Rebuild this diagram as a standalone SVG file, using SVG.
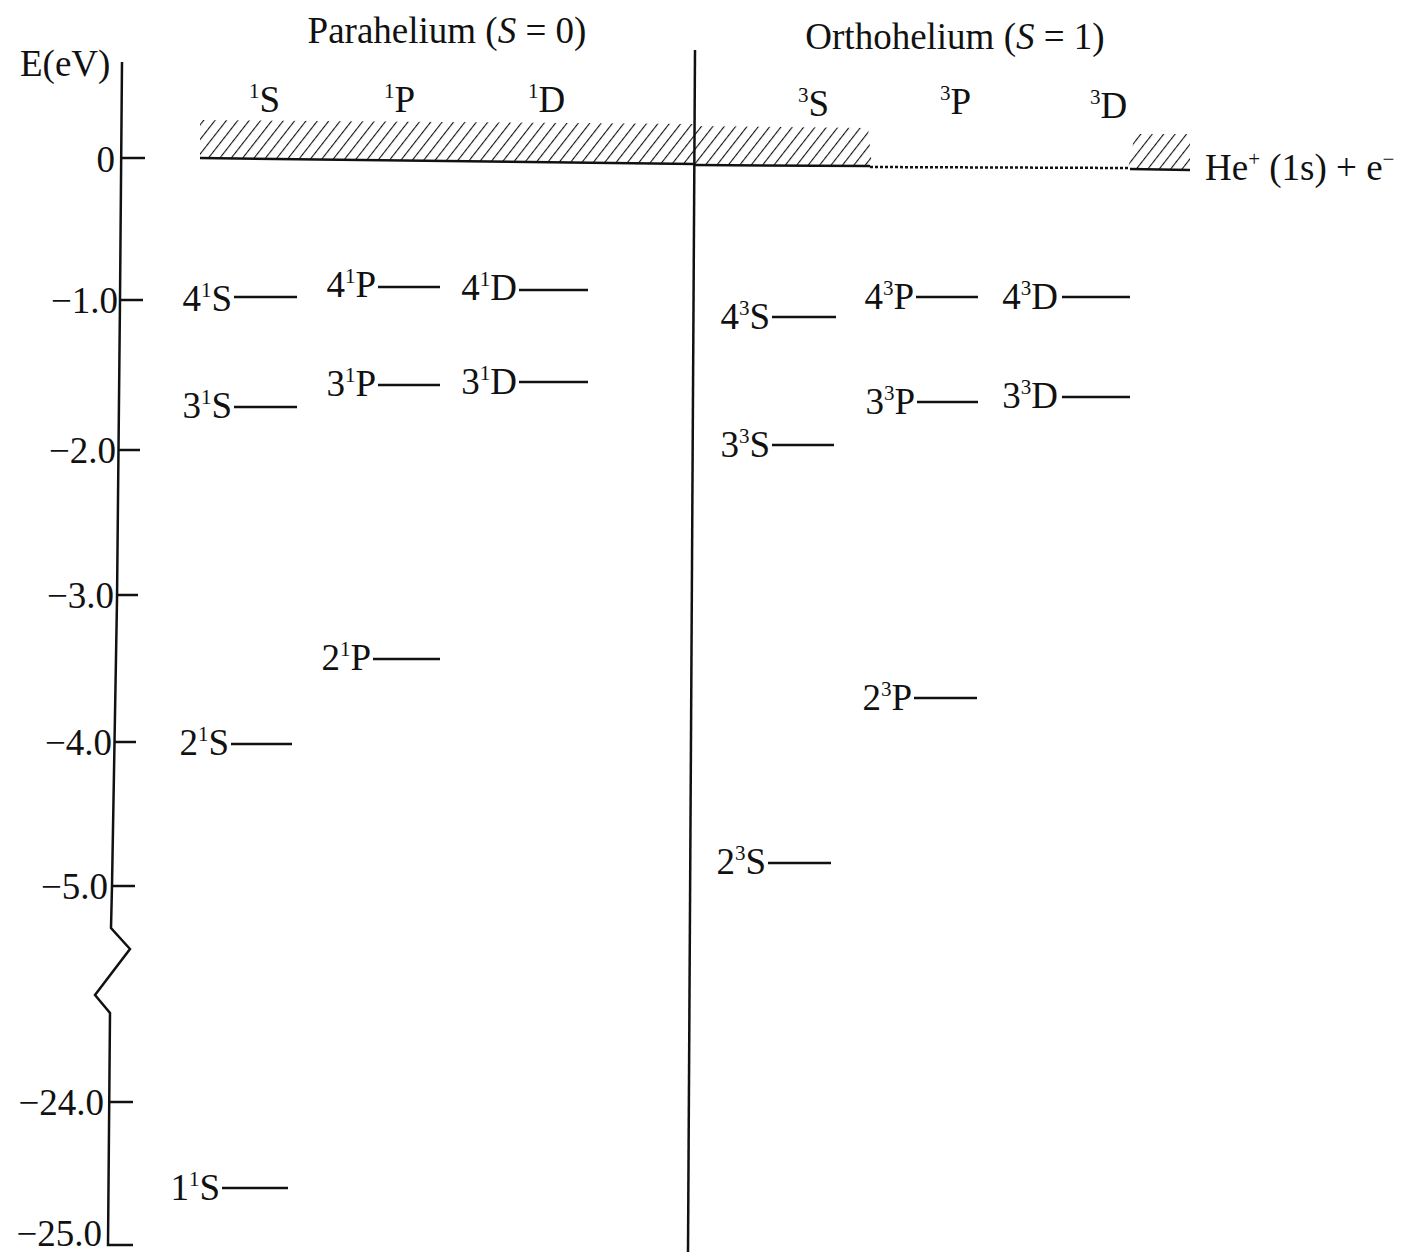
<svg xmlns="http://www.w3.org/2000/svg" width="1424" height="1257" viewBox="0 0 1424 1257">
<style>
text{font-family:"Liberation Serif","Times New Roman",serif;fill:#111;font-size:37px}
.sup{font-size:21px}
.lvl{stroke:#111;stroke-width:2.5;fill:none}
.ax{stroke:#111;stroke-width:2.5;fill:none}
.lab{text-anchor:end}
</style>
<defs>
<pattern id="hatch" patternUnits="userSpaceOnUse" width="9" height="9" patternTransform="rotate(38)">
<line x1="0" y1="0" x2="0" y2="9" stroke="#111" stroke-width="2.2"/>
</pattern>
</defs>
<rect width="1424" height="1257" fill="#fff"/>

<g id="axis">
<polyline class="ax" points="122,62 120,300 117,600 112,886 111,928 130,949 95,995 110,1013 108,1245 133,1245"/>
<line class="ax" x1="121" y1="158" x2="145" y2="158"/>
<line class="ax" x1="120" y1="300" x2="143" y2="300"/>
<line class="ax" x1="118" y1="450" x2="140" y2="450"/>
<line class="ax" x1="117" y1="595" x2="138" y2="595"/>
<line class="ax" x1="115" y1="742" x2="136" y2="742"/>
<line class="ax" x1="112" y1="886" x2="135" y2="886"/>
<line class="ax" x1="109" y1="1102" x2="133" y2="1102"/>
<text x="20" y="76">E(eV)</text>
<text x="115" y="172" text-anchor="end">0</text>
<text x="118" y="313" text-anchor="end">−1.0</text>
<text x="116" y="463" text-anchor="end">−2.0</text>
<text x="114" y="608" text-anchor="end">−3.0</text>
<text x="112" y="755" text-anchor="end">−4.0</text>
<text x="108" y="899" text-anchor="end">−5.0</text>
<text x="104" y="1115" text-anchor="end">−24.0</text>
<text x="102" y="1246" text-anchor="end">−25.0</text>
</g>

<g id="divider">
<line class="ax" x1="695" y1="50" x2="688" y2="1252"/>
</g>

<g id="headers">
<text x="447" y="43" text-anchor="middle">Parahelium (<tspan font-style="italic">S</tspan> = 0)</text>
<text x="955" y="49" text-anchor="middle">Orthohelium (<tspan font-style="italic">S</tspan> = 1)</text>
<text x="249" y="112"><tspan class="sup" dy="-14">1</tspan><tspan dy="14">S</tspan></text>
<text x="384" y="112"><tspan class="sup" dy="-14">1</tspan><tspan dy="14">P</tspan></text>
<text x="528" y="112"><tspan class="sup" dy="-14">1</tspan><tspan dy="14">D</tspan></text>
<text x="798" y="116"><tspan class="sup" dy="-14">3</tspan><tspan dy="14">S</tspan></text>
<text x="940" y="114"><tspan class="sup" dy="-14">3</tspan><tspan dy="14">P</tspan></text>
<text x="1090" y="118"><tspan class="sup" dy="-14">3</tspan><tspan dy="14">D</tspan></text>
</g>

<g id="continuum">
<polygon points="200,120 695,124 695,165 200,158" fill="url(#hatch)"/>
<polygon points="695,126 868,128 872,166 695,165" fill="url(#hatch)"/>
<polygon points="1135,134 1190,134 1190,170 1128,169" fill="url(#hatch)"/>
<polyline class="ax" points="200,158 695,164"/>
<line class="ax" x1="695" y1="165" x2="870" y2="166"/>
<line x1="870" y1="167" x2="1130" y2="168" stroke="#111" stroke-width="2.5" stroke-dasharray="3 2"/>
<line class="ax" x1="1130" y1="169" x2="1190" y2="170"/>
<text x="1205" y="180">He<tspan class="sup" dy="-14">+</tspan><tspan dy="14"> (1s) + e</tspan><tspan class="sup" dy="-14">−</tspan></text>
</g>

<g id="para-4S"><text class="lab" x="232" y="311">4<tspan class="sup" dy="-14">1</tspan><tspan dy="14">S</tspan></text><line class="lvl" x1="234" y1="297" x2="297" y2="297"/></g>
<g id="para-4P"><text class="lab" x="376" y="297">4<tspan class="sup" dy="-14">1</tspan><tspan dy="14">P</tspan></text><line class="lvl" x1="378" y1="287" x2="440" y2="287"/></g>
<g id="para-4D"><text class="lab" x="517" y="300">4<tspan class="sup" dy="-14">1</tspan><tspan dy="14">D</tspan></text><line class="lvl" x1="519" y1="290" x2="588" y2="290"/></g>
<g id="para-3S"><text class="lab" x="232" y="418">3<tspan class="sup" dy="-14">1</tspan><tspan dy="14">S</tspan></text><line class="lvl" x1="234" y1="407" x2="297" y2="407"/></g>
<g id="para-3P"><text class="lab" x="376" y="396">3<tspan class="sup" dy="-14">1</tspan><tspan dy="14">P</tspan></text><line class="lvl" x1="378" y1="385" x2="440" y2="385"/></g>
<g id="para-3D"><text class="lab" x="517" y="394">3<tspan class="sup" dy="-14">1</tspan><tspan dy="14">D</tspan></text><line class="lvl" x1="519" y1="382" x2="588" y2="382"/></g>
<g id="para-2P"><text class="lab" x="371" y="670">2<tspan class="sup" dy="-14">1</tspan><tspan dy="14">P</tspan></text><line class="lvl" x1="373" y1="659" x2="440" y2="659"/></g>
<g id="para-2S"><text class="lab" x="229" y="755">2<tspan class="sup" dy="-14">1</tspan><tspan dy="14">S</tspan></text><line class="lvl" x1="231" y1="744" x2="292" y2="744"/></g>
<g id="para-1S"><text class="lab" x="220" y="1200">1<tspan class="sup" dy="-14">1</tspan><tspan dy="14">S</tspan></text><line class="lvl" x1="222" y1="1188" x2="288" y2="1188"/></g>

<g id="ortho-4S"><text class="lab" x="770" y="329">4<tspan class="sup" dy="-14">3</tspan><tspan dy="14">S</tspan></text><line class="lvl" x1="772" y1="317" x2="836" y2="317"/></g>
<g id="ortho-4P"><text class="lab" x="914" y="309">4<tspan class="sup" dy="-14">3</tspan><tspan dy="14">P</tspan></text><line class="lvl" x1="916" y1="297" x2="978" y2="297"/></g>
<g id="ortho-4D"><text class="lab" x="1058" y="309">4<tspan class="sup" dy="-14">3</tspan><tspan dy="14">D</tspan></text><line class="lvl" x1="1062" y1="297" x2="1130" y2="297"/></g>
<g id="ortho-3P"><text class="lab" x="915" y="414">3<tspan class="sup" dy="-14">3</tspan><tspan dy="14">P</tspan></text><line class="lvl" x1="917" y1="402" x2="978" y2="402"/></g>
<g id="ortho-3D"><text class="lab" x="1058" y="408">3<tspan class="sup" dy="-14">3</tspan><tspan dy="14">D</tspan></text><line class="lvl" x1="1062" y1="397" x2="1130" y2="397"/></g>
<g id="ortho-3S"><text class="lab" x="770" y="457">3<tspan class="sup" dy="-14">3</tspan><tspan dy="14">S</tspan></text><line class="lvl" x1="772" y1="445" x2="834" y2="445"/></g>
<g id="ortho-2P"><text class="lab" x="912" y="710">2<tspan class="sup" dy="-14">3</tspan><tspan dy="14">P</tspan></text><line class="lvl" x1="914" y1="698" x2="977" y2="698"/></g>
<g id="ortho-2S"><text class="lab" x="766" y="874">2<tspan class="sup" dy="-14">3</tspan><tspan dy="14">S</tspan></text><line class="lvl" x1="768" y1="863" x2="831" y2="863"/></g>

<g id="connectors"></g>
</svg>
